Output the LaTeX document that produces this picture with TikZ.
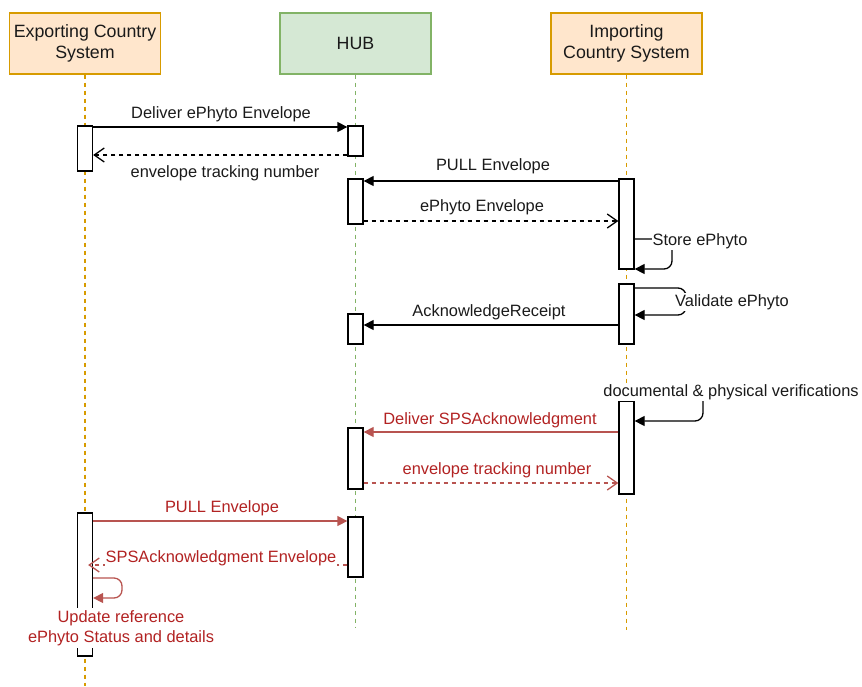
\documentclass[tikz,border=0pt]{standalone}
\usepackage{fontspec}
\setmainfont{Liberation Sans}
\usetikzlibrary{arrows.meta,calc}
\definecolor{orfill}{HTML}{FFE6CC}
\definecolor{ordraw}{HTML}{D79B00}
\definecolor{grfill}{HTML}{D5E8D4}
\definecolor{grdraw}{HTML}{82B366}
\definecolor{redline}{HTML}{B85450}
\definecolor{redtext}{HTML}{B22222}
\definecolor{txt}{HTML}{1A1A1A}
\begin{document}
\begin{tikzpicture}[x=1pt,y=-1pt,line width=1.3pt,
  hdr/.style={draw, minimum width=151pt, minimum height=61pt, inner sep=0pt, align=center,
    font=\fontsize{17.8}{21}\selectfont, text=txt},
  act/.style={draw=black, fill=white, minimum width=15pt, inner sep=0pt},
  life/.style={dash pattern=on 4pt off 4pt, line width=1.1pt},
  lbl/.style={font=\fontsize{16.4}{20}\selectfont, text=txt, inner sep=1pt},
  rlbl/.style={lbl, text=redtext},
  msg/.style={draw=black, -{Triangle[length=10pt,width=10pt]}},
  ret/.style={draw=black, dash pattern=on 4pt off 4pt, -{Straight Barb[length=10pt,width=14pt]}},
  rmsg/.style={msg, draw=redline, -{Triangle[length=10pt,width=10pt,fill=redline]}},
  rret/.style={ret, draw=redline},
  loopy/.style={rounded corners=8pt}
]
\useasboundingbox (0,0) rectangle (862,686);

% headers
\node[hdr, fill=orfill, draw=ordraw] (exp) at (85,43.5) {Exporting Country\\System};
\node[hdr, fill=grfill, draw=grdraw] (hub) at (355.5,43.5) {HUB};
\node[hdr, fill=orfill, draw=ordraw] (imp) at (626.5,43.5) {Importing\\Country System};

% lifeline ends
\coordinate (expend) at (85,686);
\coordinate (hubend) at (355.5,628);
\coordinate (impend) at (626.5,630);

\draw[life, ordraw] (exp.south) -- (expend);
\draw[life, grdraw] (hub.south) -- (hubend);
\draw[life, ordraw] (imp.south) -- (impend);

% activations
\node[act, minimum height=45pt] (E1) at (85,148.5) {};
\node[act, minimum height=143pt] (E2) at (85,584.5) {};
\node[act, minimum height=30pt] (H1) at (355.5,141) {};
\node[act, minimum height=45pt] (H2) at (355.5,201.5) {};
\node[act, minimum height=30pt] (H3) at (355.5,329) {};
\node[act, minimum height=61pt] (H4) at (355.5,458.5) {};
\node[act, minimum height=60pt] (H5) at (355.5,547) {};
\node[act, minimum height=90pt] (I1) at (626.5,224) {};
\node[act, minimum height=60pt] (I2) at (626.5,314) {};
\node[act, minimum height=93pt] (I3) at (626.5,447.5) {};

% messages
\draw[msg] (E1.east |- 0,127) -- (H1.west |- 0,127);
\node[lbl] (l1) at (221,114) {Deliver ePhyto Envelope};
\draw[ret] (H1.west |- 0,155) -- (E1.east |- 0,155);
\node[lbl] (l2) at (225,173) {envelope tracking number};

\draw[msg] (I1.west |- 0,181) -- (H2.east |- 0,181);
\node[lbl] (l3) at (493,166) {PULL Envelope};
\draw[ret] (H2.east |- 0,221) -- (I1.west |- 0,221);
\node[lbl] (l4) at (482,207) {ePhyto Envelope};

\draw[msg, loopy] (I1.east |- 0,239) -- (672,239) -- (672,269) -- (I1.east |- 0,269);
\node[lbl, fill=white] (l5) at (700,241) {Store ePhyto};

\draw[msg, loopy] (I2.east |- 0,288) -- (686,288) -- (686,315) -- (I2.east |- 0,315);
\node[lbl, fill=white] (l6) at (732,302) {Validate ePhyto};

\draw[msg] (I2.west |- 0,325) -- (H3.east |- 0,325);
\node[lbl] (l7) at (489,312) {AcknowledgeReceipt};

\draw[msg, loopy] (I3.east |- 0,392) -- (703,392) -- (703,421) -- (I3.east |- 0,421);
\node[lbl, fill=white] (l8) at (731,392) {documental \& physical verifications};

% red messages
\draw[rmsg] (I3.west |- 0,432) -- (H4.east |- 0,432);
\node[rlbl] (l9) at (490,420) {Deliver SPSAcknowledgment};
\draw[rret] (H4.east |- 0,483) -- (I3.west |- 0,483);
\node[rlbl] (l10) at (497,470) {envelope tracking number};

\draw[rmsg] (E2.east |- 0,521) -- (H5.west |- 0,521);
\node[rlbl] (l11) at (222,508) {PULL Envelope};
\draw[rret] (H5.west |- 0,565) -- ($(E2.east |- 0,565)+(-5,0)$);
\node[rlbl, fill=white] (l12) at (221,558) {SPSAcknowledgment Envelope};

\draw[rmsg, loopy] (E2.east |- 0,578) -- (122,578) -- (122,598) -- (E2.east |- 0,598);
\node[rlbl, fill=white, align=center, inner sep=2pt] (l13) at (121,628) {Update reference\\ePhyto Status and details};
\end{tikzpicture}
\end{document}
